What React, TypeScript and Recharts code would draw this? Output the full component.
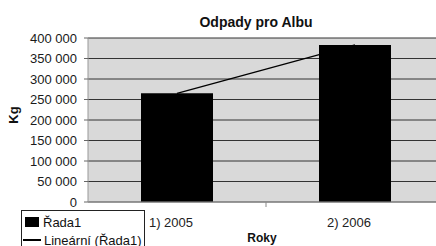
import React from "react";
import { ComposedChart, Bar, Line, XAxis, YAxis, CartesianGrid, Label } from "recharts";

const categories = ["1) 2005", "2) 2006"];
const values = [265000, 383000];
const yTicks = [0, 50000, 100000, 150000, 200000, 250000, 300000, 350000, 400000];
const title = "Odpady pro Albu";
const seriesName = "Řada1";
const trendName = "Lineární (Řada1)";
const xTitle = "Roky";
const yTitle = "Kg";

const data = categories.map((c, i) => ({ x: i + 0.5, name: c, value: values[i] }));
const xTicks = [0.5, 1, 1.5];

const FONT = "'Liberation Sans', Arial, sans-serif";

const fmt = (v: number) => v.toLocaleString("en-US").replace(/,/g, " ");

const XTick = (props: any) => {
  const { x, y, payload } = props;
  const v = payload.value;
  if (Math.abs(v - Math.round(v)) < 1e-6) {
    return <line x1={x} x2={x} y1={y - 8} y2={y - 3} stroke="#888" strokeWidth={1} />;
  }
  const idx = Math.floor(v);
  return (
    <text x={x - 6} y={y + 17} textAnchor="middle" fontFamily={FONT} fontSize={13} fill="#222">
      {categories[idx]}
    </text>
  );
};

export default function App() {
  return (
    <div style={{ position: "absolute", left: 0, top: 0, width: 436, height: 246, overflow: "hidden", background: "#fff" }}>
      <div style={{ position: "absolute", left: 0, top: 14, width: 436, textAlign: "center", paddingLeft: 88, boxSizing: "border-box", fontFamily: FONT, fontWeight: "bold", fontSize: 14, color: "#111" }}>
        <span style={{ marginLeft: -12 }}>{title}</span>
      </div>
      <ComposedChart
        width={460}
        height={246}
        data={data}
        margin={{ top: 38, right: 16, bottom: 0, left: 0 }}
        style={{ position: "absolute", left: 0, top: 0 }}
      >
        <CartesianGrid vertical={false} horizontal stroke="#333" fill="#d9d9d9" fillOpacity={1} />
        <XAxis
          dataKey="x"
          type="number"
          domain={[0, 2]}
          ticks={xTicks}
          height={44}
          axisLine={{ stroke: "#999" }}
          tickLine={false}
          tick={<XTick />}
          interval={0}
        >
          <Label value={xTitle} position="insideBottom" offset={4} dx={-4} style={{ fontFamily: FONT, fontWeight: "bold", fontSize: 12, fill: "#111" }} />
        </XAxis>
        <YAxis
          domain={[0, 400000]}
          ticks={yTicks}
          width={88}
          axisLine={{ stroke: "#999" }}
          tickLine={{ stroke: "#666" }}
          tickSize={4}
          tickMargin={7}
          tickFormatter={fmt}
          tick={{ fontFamily: FONT, fontSize: 13, fill: "#1a1a1a" }}
          interval={0}
        >
          <Label value={yTitle} angle={-90} position="insideLeft" offset={13} dy={-5} style={{ fontFamily: FONT, fontWeight: "bold", fontSize: 13, fill: "#111", textAnchor: "middle" }} />
        </YAxis>
        <Line dataKey="value" stroke="#000" strokeWidth={1.3} dot={false} isAnimationActive={false} />
        <Bar dataKey="value" fill="#000" barSize={72} isAnimationActive={false} />
      </ComposedChart>
      <div style={{ position: "absolute", left: 21, top: 210, width: 124, height: 50, border: "1px solid #222", background: "#fff", fontFamily: FONT, fontSize: 13, color: "#111", boxSizing: "border-box" }}>
        <div style={{ display: "flex", alignItems: "center", height: 16, marginTop: 3 }}>
          <span style={{ display: "inline-block", width: 14, height: 10, background: "#000", marginLeft: 3, marginRight: 4 }} />
          <span>{seriesName}</span>
        </div>
        <div style={{ display: "flex", alignItems: "center", height: 16, marginTop: 2 }}>
          <span style={{ display: "inline-block", width: 18, height: 1.3, background: "#000", marginLeft: 1, marginRight: 3 }} />
          <span>{trendName}</span>
        </div>
      </div>
    </div>
  );
}
